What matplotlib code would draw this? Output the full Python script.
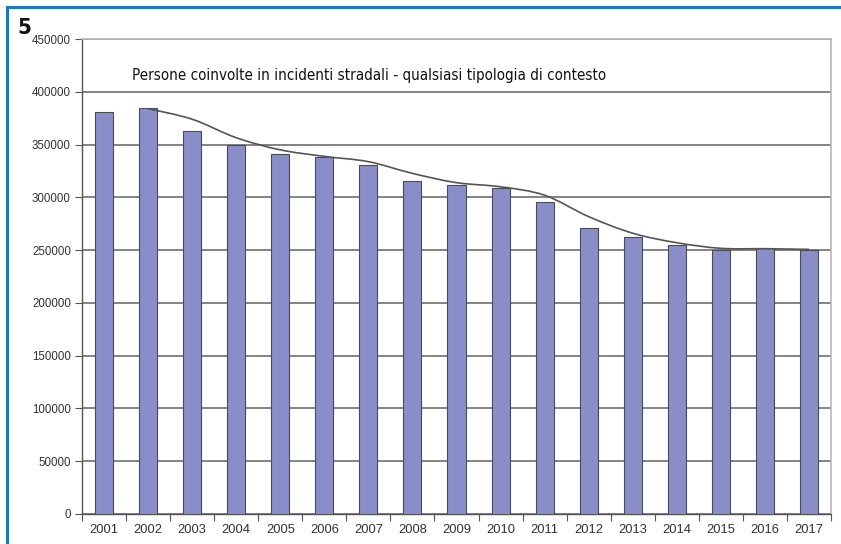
import matplotlib
matplotlib.use("Agg")
import matplotlib.pyplot as plt
import numpy as np
from matplotlib.path import Path
from matplotlib.patches import PathPatch
from matplotlib.lines import Line2D
from matplotlib import font_manager

years = ["2001", "2002", "2003", "2004", "2005", "2006", "2007", "2008", "2009",
         "2010", "2011", "2012", "2013", "2014", "2015", "2016", "2017"]
persons = [380500, 385000, 362800, 350000, 340700, 338500, 330600, 315500, 311700,
           309000, 296000, 270600, 262000, 254800, 250300, 251700, 250500]
trend = [None, 384000, 374000, 356500, 345000, 338800, 333800, 322700, 313900,
         310000, 302000, 281700, 266000, 257000, 251700, 251300, 250700]
yticks = [0, 50000, 100000, 150000, 200000, 250000, 300000, 350000, 400000, 450000]
title = "Persone coinvolte in incidenti stradali - qualsiasi tipologia di contesto"

# look for a condensed face if installed
cond = None
for f in font_manager.fontManager.ttflist:
    if "Narrow" in f.name or ("Condensed" in f.fname and "DejaVuSans" in f.fname and "Bold" not in f.fname and "Oblique" not in f.fname):
        cond = f.fname
        break
condb = None
for f in font_manager.fontManager.ttflist:
    if "DejaVuSansCondensed-Bold.ttf" in f.fname:
        condb = f.fname
        break

fig = plt.figure(figsize=(8.41, 5.44), dpi=100)
ax = fig.add_axes([82/841, 1-514/544, (831-82)/841, (514-39)/544])

x = np.arange(len(years))
ax.bar(x, persons, width=0.41, color="#8a8ec8", edgecolor="#4a4a5a", linewidth=0.8, zorder=3)

# smoothed trend line (Catmull-Rom -> cubic Bezier)
tx = [xi for xi, t in zip(x, trend) if t is not None]
ty = [t for t in trend if t is not None]
pts = list(zip(tx, ty))
verts = [pts[0]]
codes = [Path.MOVETO]
for i in range(len(pts) - 1):
    p0 = pts[i - 1] if i > 0 else pts[i]
    p1 = pts[i]
    p2 = pts[i + 1]
    p3 = pts[i + 2] if i + 2 < len(pts) else pts[i + 1]
    c1 = (p1[0] + (p2[0] - p0[0]) / 6, p1[1] + (p2[1] - p0[1]) / 6)
    c2 = (p2[0] - (p3[0] - p1[0]) / 6, p2[1] - (p3[1] - p1[1]) / 6)
    verts += [c1, c2, p2]
    codes += [Path.CURVE4] * 3
ax.add_patch(PathPatch(Path(verts, codes), facecolor="none", edgecolor="#555555",
                       linewidth=1.2, zorder=4))

ax.set_xlim(-0.5, len(years) - 0.5)
ax.set_ylim(0, 450000)
ax.set_yticks(yticks)
ax.set_yticklabels([str(v) for v in yticks], fontsize=8.3, color="#333333",
                   family="Liberation Sans")
ax.yaxis.grid(True, color="#6e6e6e", linewidth=1.2, zorder=0)
ax.set_axisbelow(True)

ax.set_xticks(np.arange(-0.5, len(years)), minor=False)
ax.set_xticklabels([])
ax.set_xticks(x, minor=True)
ax.set_xticklabels(years, minor=True, fontsize=9.3, color="#333333", family="Liberation Sans")
ax.tick_params(axis="x", which="major", length=5, color="#555555", direction="out")
ax.tick_params(axis="x", which="minor", length=0, pad=7)
ax.tick_params(axis="y", length=5, color="#555555", direction="out", pad=3)

for s in ["left", "bottom"]:
    ax.spines[s].set_color("#555555")
    ax.spines[s].set_linewidth(1.0)
for s in ["top", "right"]:
    ax.spines[s].set_color("#b8b8b8")
    ax.spines[s].set_linewidth(1.2)

if cond:
    tfp = font_manager.FontProperties(fname=cond, size=10.9)
else:
    tfp = font_manager.FontProperties(family="Liberation Sans", size=11.0)
fig.text(132/841, 1-75/544, title, fontproperties=tfp, color="#111111",
         ha="left", va="center")

if condb:
    nfp = font_manager.FontProperties(fname=condb, size=16)
else:
    nfp = font_manager.FontProperties(family="Liberation Sans", weight="bold", size=15)
fig.text(17/841, 1-28/544, "5", fontproperties=nfp, color="#111111",
         ha="left", va="center")

blue = "#1a78c6"
fig.add_artist(Line2D([7/841, 1.0], [1-7/544, 1-7/544], transform=fig.transFigure,
                      color=blue, linewidth=2.2, solid_capstyle="butt"))
fig.add_artist(Line2D([7/841, 7/841], [0, 1-7/544], transform=fig.transFigure,
                      color=blue, linewidth=2.2, solid_capstyle="projecting"))

fig.savefig("out.png", dpi=100)
